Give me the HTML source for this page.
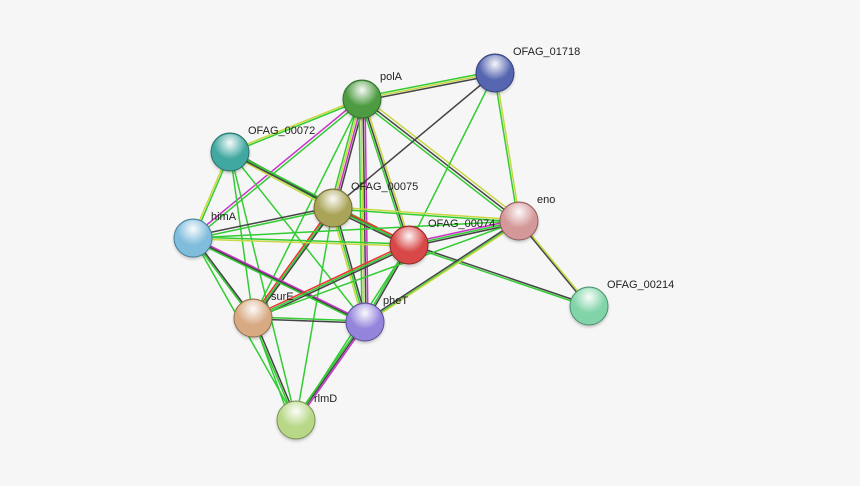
<!DOCTYPE html>
<html><head><meta charset="utf-8"><style>
html,body{margin:0;padding:0;background:#f6f6f6;}
svg{display:block}
text{font-family:"Liberation Sans",sans-serif;font-size:11px;fill:#222}
</style></head><body>
<svg width="860" height="486" viewBox="0 0 860 486">
<defs>
<radialGradient id="hl" cx="50%" cy="25%" r="45%"><stop offset="0" stop-color="#fff" stop-opacity="0.95"/><stop offset="1" stop-color="#fff" stop-opacity="0"/></radialGradient>
<filter id="sh" x="-30%" y="-30%" width="160%" height="160%"><feGaussianBlur stdDeviation="1.5"/></filter>
</defs>
<g stroke-width="1.5" fill="none">
<!-- polA-01718 -->
<line x1="362" y1="97" x2="495" y2="71" stroke="#33cc33"/><line x1="362" y1="99" x2="495" y2="73" stroke="#c8d840"/><line x1="362" y1="101" x2="495" y2="75" stroke="#444"/>
<!-- polA-00072 -->
<line x1="362" y1="98" x2="230" y2="151" stroke="#c8d840"/><line x1="362" y1="100" x2="230" y2="153" stroke="#33cc33"/>
<!-- polA-00075 -->
<line x1="359" y1="99" x2="330" y2="208" stroke="#33cc33"/><line x1="361" y1="99" x2="332" y2="208" stroke="#c8d840"/><line x1="363" y1="99" x2="334" y2="208" stroke="#cc33cc"/><line x1="365" y1="99" x2="336" y2="208" stroke="#444"/>
<!-- polA-himA -->
<line x1="361" y1="98" x2="192" y2="237" stroke="#cc33cc"/><line x1="363" y1="100" x2="194" y2="239" stroke="#33cc33"/>
<!-- polA-00074 -->
<line x1="360" y1="99" x2="407" y2="245" stroke="#33cc33"/><line x1="362" y1="99" x2="409" y2="245" stroke="#444"/><line x1="364" y1="99" x2="411" y2="245" stroke="#c8d840"/>
<!-- polA-pheT -->
<line x1="359" y1="99" x2="362" y2="322" stroke="#33cc33"/><line x1="361" y1="99" x2="364" y2="322" stroke="#c8d840"/><line x1="363" y1="99" x2="366" y2="322" stroke="#444"/><line x1="365" y1="99" x2="368" y2="322" stroke="#cc33cc"/>
<line x1="362" y1="99" x2="253" y2="318" stroke="#33cc33"/>
<line x1="362" y1="99" x2="519" y2="221" stroke="#444"/><line x1="364" y1="97" x2="521" y2="219" stroke="#c8d840"/><line x1="360" y1="101" x2="517" y2="223" stroke="#33cc33"/>
<!-- 01718 -->
<line x1="495" y1="73" x2="333" y2="208" stroke="#444"/>
<line x1="495" y1="73" x2="409" y2="245" stroke="#33cc33"/>
<line x1="494" y1="73" x2="518" y2="221" stroke="#33cc33"/><line x1="496" y1="73" x2="520" y2="221" stroke="#c8d840"/>
<!-- 00072 -->
<line x1="230" y1="150" x2="333" y2="206" stroke="#444"/><line x1="230" y1="152" x2="333" y2="208" stroke="#33cc33"/><line x1="230" y1="154" x2="333" y2="210" stroke="#c8d840"/>
<line x1="229" y1="152" x2="192" y2="238" stroke="#c8d840"/><line x1="231" y1="152" x2="194" y2="238" stroke="#33cc33"/>
<line x1="230" y1="151" x2="409" y2="244" stroke="#33cc33"/><line x1="230" y1="153" x2="409" y2="246" stroke="#444"/>
<line x1="230" y1="152" x2="253" y2="318" stroke="#33cc33"/>
<line x1="230" y1="152" x2="365" y2="322" stroke="#33cc33"/>
<line x1="230" y1="152" x2="296" y2="420" stroke="#33cc33"/>
<!-- 00075 -->
<line x1="333" y1="207" x2="193" y2="236" stroke="#444"/><line x1="333" y1="209" x2="193" y2="239" stroke="#33cc33"/>
<line x1="333" y1="206" x2="409" y2="243" stroke="#ee3333"/><line x1="333" y1="208" x2="409" y2="245" stroke="#33cc33"/><line x1="333" y1="210" x2="409" y2="247" stroke="#444"/>
<line x1="333" y1="207" x2="519" y2="220" stroke="#c8d840"/><line x1="333" y1="209" x2="519" y2="222" stroke="#33cc33"/>
<line x1="331" y1="208" x2="251" y2="318" stroke="#ee3333"/><line x1="333" y1="208" x2="253" y2="318" stroke="#33cc33"/><line x1="335" y1="208" x2="255" y2="318" stroke="#444"/>
<line x1="331" y1="208" x2="363" y2="322" stroke="#c8d840"/><line x1="333" y1="208" x2="365" y2="322" stroke="#33cc33"/><line x1="335" y1="208" x2="367" y2="322" stroke="#444"/>
<line x1="333" y1="208" x2="296" y2="420" stroke="#33cc33"/>
<!-- himA -->
<line x1="193" y1="237" x2="409" y2="244" stroke="#33cc33"/><line x1="193" y1="239" x2="409" y2="246" stroke="#c8d840"/>
<line x1="192" y1="238" x2="252" y2="318" stroke="#33cc33"/><line x1="194" y1="238" x2="254" y2="318" stroke="#444"/>
<line x1="192" y1="237" x2="364" y2="321" stroke="#cc33cc"/><line x1="193" y1="239" x2="365" y2="323" stroke="#444"/><line x1="194" y1="241" x2="366" y2="325" stroke="#33cc33"/>
<line x1="193" y1="238" x2="296" y2="420" stroke="#33cc33"/>
<line x1="193" y1="238" x2="519" y2="221" stroke="#33cc33"/>
<!-- 00074 -->
<line x1="409" y1="243" x2="519" y2="219" stroke="#cc33cc"/><line x1="409" y1="245" x2="519" y2="221" stroke="#33cc33"/><line x1="409" y1="247" x2="519" y2="223" stroke="#444"/>
<line x1="409" y1="243" x2="253" y2="316" stroke="#ee3333"/><line x1="409" y1="245" x2="253" y2="318" stroke="#33cc33"/><line x1="409" y1="247" x2="253" y2="320" stroke="#444"/>
<line x1="408" y1="245" x2="364" y2="322" stroke="#33cc33"/><line x1="410" y1="245" x2="366" y2="322" stroke="#444"/>
<line x1="409" y1="244" x2="589" y2="305" stroke="#444"/><line x1="409" y1="246" x2="589" y2="307" stroke="#33cc33"/>
<!-- eno -->
<line x1="518" y1="221" x2="588" y2="306" stroke="#444"/><line x1="520" y1="221" x2="590" y2="306" stroke="#c8d840"/>
<line x1="519" y1="220" x2="365" y2="321" stroke="#444"/><line x1="519" y1="222" x2="365" y2="323" stroke="#33cc33"/>
<line x1="519" y1="221" x2="253" y2="318" stroke="#33cc33"/>
<line x1="519" y1="223" x2="365" y2="324" stroke="#c8d840"/>
<!-- surE -->
<line x1="253" y1="317" x2="365" y2="321" stroke="#33cc33"/><line x1="253" y1="319" x2="365" y2="323" stroke="#444"/>
<line x1="252" y1="318" x2="295" y2="420" stroke="#33cc33"/><line x1="254" y1="318" x2="297" y2="420" stroke="#444"/>
<line x1="253" y1="318" x2="290" y2="420" stroke="#33cc33"/>
<!-- pheT-rlmD -->
<line x1="363" y1="322" x2="294" y2="420" stroke="#33cc33"/><line x1="365" y1="322" x2="296" y2="420" stroke="#444"/><line x1="367" y1="322" x2="298" y2="420" stroke="#cc33cc"/>
<line x1="409" y1="245" x2="296" y2="420" stroke="#33cc33"/>
</g>
<g>
<g><circle cx="362" cy="101" r="19" fill="#000" opacity="0.25" filter="url(#sh)"/><circle cx="362" cy="99" r="19" fill="#4e9c42" stroke="#2e6e28" stroke-width="1"/><circle cx="362" cy="99" r="18" fill="url(#hl)"/></g>
<g><circle cx="495" cy="75" r="19" fill="#000" opacity="0.25" filter="url(#sh)"/><circle cx="495" cy="73" r="19" fill="#5565b0" stroke="#33407a" stroke-width="1"/><circle cx="495" cy="73" r="18" fill="url(#hl)"/></g>
<g><circle cx="230" cy="154" r="19" fill="#000" opacity="0.25" filter="url(#sh)"/><circle cx="230" cy="152" r="19" fill="#40a8a0" stroke="#2a6e68" stroke-width="1"/><circle cx="230" cy="152" r="18" fill="url(#hl)"/></g>
<g><circle cx="333" cy="210" r="19" fill="#000" opacity="0.25" filter="url(#sh)"/><circle cx="333" cy="208" r="19" fill="#aaa458" stroke="#6e6a30" stroke-width="1"/><circle cx="333" cy="208" r="18" fill="url(#hl)"/></g>
<g><circle cx="193" cy="240" r="19" fill="#000" opacity="0.25" filter="url(#sh)"/><circle cx="193" cy="238" r="19" fill="#80bcdc" stroke="#4a7e98" stroke-width="1"/><circle cx="193" cy="238" r="18" fill="url(#hl)"/></g>
<g><circle cx="409" cy="247" r="19" fill="#000" opacity="0.25" filter="url(#sh)"/><circle cx="409" cy="245" r="19" fill="#d84848" stroke="#8e2a2a" stroke-width="1"/><circle cx="409" cy="245" r="18" fill="url(#hl)"/></g>
<g><circle cx="519" cy="223" r="19" fill="#000" opacity="0.25" filter="url(#sh)"/><circle cx="519" cy="221" r="19" fill="#d49898" stroke="#905e5e" stroke-width="1"/><circle cx="519" cy="221" r="18" fill="url(#hl)"/></g>
<g><circle cx="589" cy="308" r="19" fill="#000" opacity="0.25" filter="url(#sh)"/><circle cx="589" cy="306" r="19" fill="#80d4a8" stroke="#4e9070" stroke-width="1"/><circle cx="589" cy="306" r="18" fill="url(#hl)"/></g>
<g><circle cx="253" cy="320" r="19" fill="#000" opacity="0.25" filter="url(#sh)"/><circle cx="253" cy="318" r="19" fill="#d8aa82" stroke="#90704e" stroke-width="1"/><circle cx="253" cy="318" r="18" fill="url(#hl)"/></g>
<g><circle cx="365" cy="324" r="19" fill="#000" opacity="0.25" filter="url(#sh)"/><circle cx="365" cy="322" r="19" fill="#9484dc" stroke="#5e5096" stroke-width="1"/><circle cx="365" cy="322" r="18" fill="url(#hl)"/></g>
<g><circle cx="296" cy="422" r="19" fill="#000" opacity="0.25" filter="url(#sh)"/><circle cx="296" cy="420" r="19" fill="#b8d888" stroke="#7a9456" stroke-width="1"/><circle cx="296" cy="420" r="18" fill="url(#hl)"/></g>
</g>
<text x="380" y="80">polA</text>
<text x="513" y="55">OFAG_01718</text>
<text x="248" y="134">OFAG_00072</text>
<text x="351" y="190">OFAG_00075</text>
<text x="211" y="220">himA</text>
<text x="428" y="227">OFAG_00074</text>
<text x="537" y="203">eno</text>
<text x="607" y="288">OFAG_00214</text>
<text x="271" y="300">surE</text>
<text x="383" y="304">pheT</text>
<text x="314" y="402">rlmD</text>
</svg>
</body></html>
